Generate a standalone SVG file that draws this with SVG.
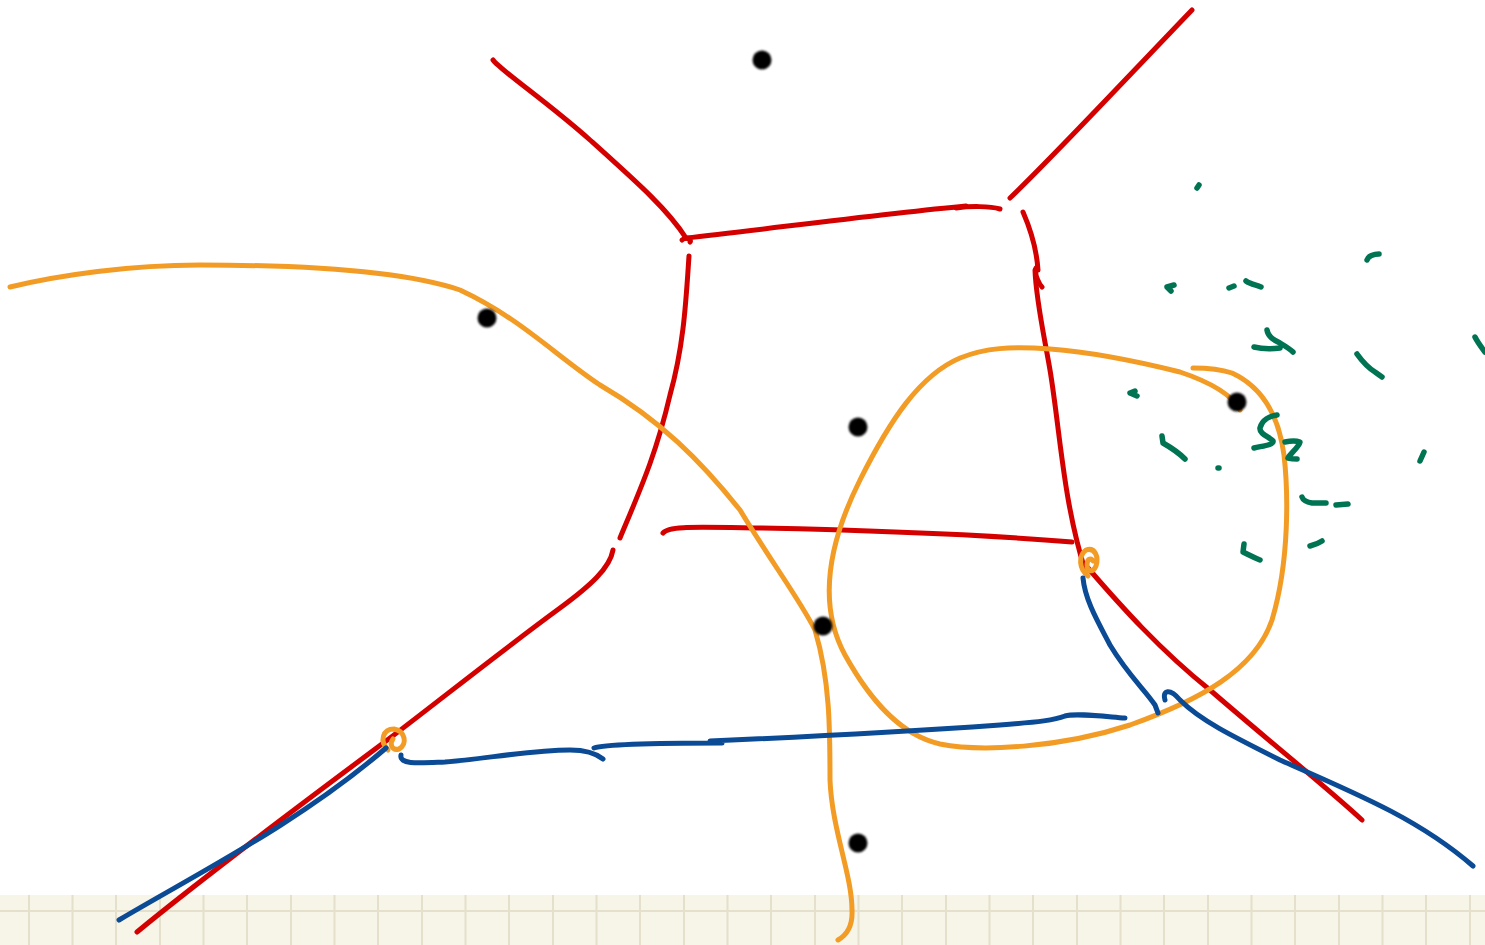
<svg xmlns="http://www.w3.org/2000/svg" width="1485" height="945" viewBox="0 0 1485 945">
<style>
.r{fill:none;stroke:#d40000;stroke-width:5;stroke-linecap:round;stroke-linejoin:round}
.o{fill:none;stroke:#f39c25;stroke-width:5;stroke-linecap:round;stroke-linejoin:round}
.b{fill:none;stroke:#0b4a94;stroke-width:5;stroke-linecap:round;stroke-linejoin:round}
.g{fill:none;stroke:#007452;stroke-width:5.5;stroke-linecap:round;stroke-linejoin:round}
.dot{fill:#000;filter:url(#soft)}
.grid{stroke:#e4e0cc;stroke-width:2}
</style>
<defs>
<filter id="soft" x="-50%" y="-50%" width="200%" height="200%"><feGaussianBlur stdDeviation="1.3"/></filter>
</defs>
<rect width="1485" height="945" fill="#fff"/>
<g id="paper">
<rect x="0" y="895" width="1485" height="50" fill="#f7f4e8"/>
<line class="grid" x1="0" y1="911" x2="1485" y2="911"/>
<g class="grid">
<line x1="29" y1="895" x2="29" y2="945"/><line x1="72.5" y1="895" x2="72.5" y2="945"/><line x1="116" y1="895" x2="116" y2="945"/><line x1="160" y1="895" x2="160" y2="945"/><line x1="203.5" y1="895" x2="203.5" y2="945"/><line x1="247" y1="895" x2="247" y2="945"/><line x1="291" y1="895" x2="291" y2="945"/><line x1="334.5" y1="895" x2="334.5" y2="945"/><line x1="378" y1="895" x2="378" y2="945"/><line x1="422" y1="895" x2="422" y2="945"/><line x1="465.5" y1="895" x2="465.5" y2="945"/><line x1="509" y1="895" x2="509" y2="945"/><line x1="553" y1="895" x2="553" y2="945"/><line x1="596.5" y1="895" x2="596.5" y2="945"/><line x1="640" y1="895" x2="640" y2="945"/><line x1="684" y1="895" x2="684" y2="945"/><line x1="727.5" y1="895" x2="727.5" y2="945"/><line x1="771" y1="895" x2="771" y2="945"/><line x1="815" y1="895" x2="815" y2="945"/><line x1="858.5" y1="895" x2="858.5" y2="945"/><line x1="902" y1="895" x2="902" y2="945"/><line x1="946" y1="895" x2="946" y2="945"/><line x1="989.5" y1="895" x2="989.5" y2="945"/><line x1="1033" y1="895" x2="1033" y2="945"/><line x1="1077" y1="895" x2="1077" y2="945"/><line x1="1120.5" y1="895" x2="1120.5" y2="945"/><line x1="1164" y1="895" x2="1164" y2="945"/><line x1="1208" y1="895" x2="1208" y2="945"/><line x1="1251.5" y1="895" x2="1251.5" y2="945"/><line x1="1295" y1="895" x2="1295" y2="945"/><line x1="1339" y1="895" x2="1339" y2="945"/><line x1="1382.5" y1="895" x2="1382.5" y2="945"/><line x1="1426" y1="895" x2="1426" y2="945"/><line x1="1470" y1="895" x2="1470" y2="945"/>
</g>
</g>
<g id="connectors">
<g id="red">
<path class="r" d="M493,60 C500,70 545,100 590,140 C640,185 668,210 686,238"/>
<path class="r" d="M682,240 C686,236 692,240 690,242"/>
<path class="r" d="M686,238 C760,230 880,214 966,206"/>
<path class="r" d="M956,208 C970,206 990,206 1000,209"/>
<path class="r" d="M1010,198 C1050,160 1120,85 1192,10"/>
<path class="r" d="M1023,212 C1033,235 1037,255 1038,270 M1036,268 C1034,275 1040,285 1042,287"/>
<path class="r" d="M1035,270 C1036,300 1044,335 1050,370 C1060,430 1063,500 1085,570"/>
<path class="r" d="M689,256 C686,300 684,345 670,395 C656,455 640,490 620,538"/>
<path class="r" d="M613,550 C610,568 590,586 560,608 C500,652 440,700 390,738 C300,805 200,880 137,932"/>
<path class="r" d="M663,533 C668,526 690,527 760,528 C900,531 1000,536 1072,542"/>
<path class="r" d="M1088,568 C1120,605 1160,650 1210,690 C1270,742 1330,790 1362,820"/>
</g>
<g id="orange">
<path class="o" d="M10,287 C60,275 130,265 200,265 C300,265 400,270 460,290 C520,318 555,355 600,385 C660,420 700,460 740,510 C770,560 800,600 815,630 C830,680 830,730 830,780 C832,830 852,875 852,910 C853,928 845,936 838,940"/>
<path class="o" d="M1240,410 C1232,395 1210,382 1180,372 C1140,362 1090,352 1050,349 C1010,346 985,348 960,358 C920,375 890,420 860,480 C832,536 815,600 845,655 C870,700 900,735 940,744 C980,752 1060,748 1130,725 C1200,700 1255,670 1272,620 C1290,560 1288,490 1284,455 C1278,410 1258,385 1232,373 C1220,369 1205,368 1193,368"/>
<path class="o" d="M388,750 C379,741 383,729 394,729 C405,731 408,744 399,749 C392,751 389,744 393,739" stroke-width="7"/>
<path class="o" d="M1088,576 C1079,569 1078,556 1086,550 C1095,547 1099,557 1096,566 C1093,573 1087,572 1087,565 C1087,559 1091,557 1093,561" stroke-width="7"/>
</g>
<g id="blue">
<path class="b" d="M119,920 C200,872 300,822 386,748"/>
<path class="b" d="M401,755 C399,765 420,763 445,762 C485,759 530,750 570,750 C588,750 598,755 603,759"/>
<path class="b" d="M594,748 C605,744 650,743 722,743 M710,741 C780,738 900,732 1000,725 C1040,722 1055,720 1065,716 C1075,713 1100,716 1125,718"/>
<path class="b" d="M1083,578 C1085,600 1098,622 1110,645 C1128,675 1145,690 1155,705 L1158,713"/>
<path class="b" d="M1165,700 C1162,690 1170,688 1180,700 C1200,720 1230,735 1280,760 C1360,795 1420,820 1473,866"/>
</g>
</g>
<g id="marks">
<path class="g" d="M1197,188 L1199,185"/>
<path class="g" d="M1367,260 C1368,256 1374,254 1379,254"/>
<path class="g" d="M1174,285 L1167,287 L1171,291"/>
<path class="g" d="M1229,288 L1234,286"/>
<path class="g" d="M1246,281 C1250,284 1256,285 1261,287"/>
<path class="g" d="M1254,347 C1262,349 1272,349 1280,348 M1267,330 C1268,336 1272,339 1280,343 C1285,346 1290,349 1293,352"/>
<path class="g" d="M1357,354 C1362,361 1367,367 1375,372 L1382,377"/>
<path class="g" d="M1475,337 C1478,343 1482,348 1485,352"/>
<path class="g" d="M1135,391 L1130,393 L1137,396"/>
<path class="g" d="M1162,436 L1163,443 C1170,447 1178,452 1185,459"/>
<path class="g" d="M1218,468 L1219,468"/>
<path class="g" d="M1277,415 C1270,416 1262,420 1260,428 C1259,434 1270,437 1273,441 C1274,445 1262,446 1254,448"/>
<path class="g" d="M1285,442 C1290,441 1297,441 1300,442 C1299,447 1290,454 1288,458 C1292,459 1296,459 1297,459"/>
<path class="g" d="M1302,497 C1303,500 1306,502 1312,503 L1326,503"/>
<path class="g" d="M1336,505 L1348,504"/>
<path class="g" d="M1424,452 L1420,461"/>
<path class="g" d="M1244,544 L1243,552 C1249,555 1255,558 1260,560"/>
<path class="g" d="M1310,546 C1314,545 1319,543 1322,541"/>
</g>
<g id="dot1"><circle class="dot" cx="762" cy="60" r="9.5"/></g>
<g id="dot2"><circle class="dot" cx="487" cy="318" r="9.5"/></g>
<g id="dot3"><circle class="dot" cx="858" cy="427" r="9.5"/></g>
<g id="dot4"><circle class="dot" cx="1237" cy="402" r="9.5"/></g>
<g id="dot5"><circle class="dot" cx="823" cy="626" r="9.5"/></g>
<g id="dot6"><circle class="dot" cx="858" cy="843" r="9.5"/></g>
</svg>
